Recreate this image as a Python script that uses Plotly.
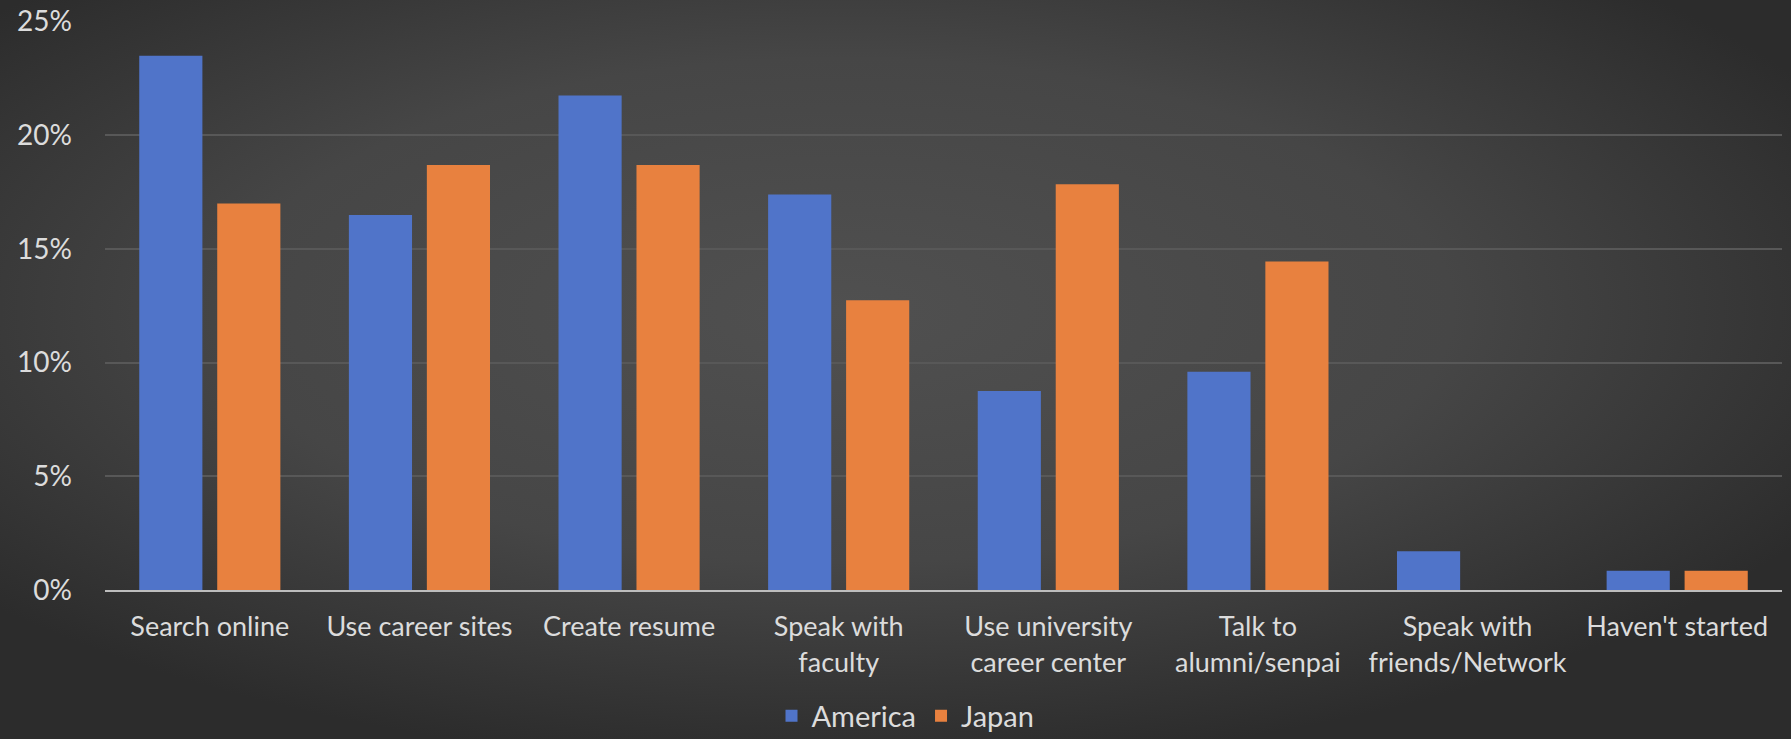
import base64
import plotly.graph_objects as go

# Job-search activities, share of respondents
categories = [
    "Search online",
    "Use career sites",
    "Create resume",
    "Speak with<br>faculty",
    "Use university<br>career center",
    "Talk to<br>alumni/senpai",
    "Speak with<br>friends/Network",
    "Haven't started",
]
america = [0.235, 0.165, 0.2175, 0.174, 0.0875, 0.096, 0.017, 0.0085]
japan = [0.17, 0.187, 0.187, 0.1275, 0.1785, 0.1445, 0.0, 0.0085]
y_ticks = [0, 0.05, 0.10, 0.15, 0.20, 0.25]
y_tick_labels = ["0%", "5%", "10%", "15%", "20%", "25%"]

W, H = 1791, 739
L, R, T, B = 105, 9, 21, 149
pw, ph = W - L - R, H - T - B

# Soft radial backdrop, lighter toward the middle
svg = f"""<svg xmlns='http://www.w3.org/2000/svg' width='{W}' height='{H}' viewBox='0 0 {W} {H}' preserveAspectRatio='none'>
<defs><radialGradient id='g' cx='0.47' cy='0.42' r='0.62' gradientUnits='objectBoundingBox'>
<stop offset='0' stop-color='#505050'/><stop offset='0.55' stop-color='#464646'/><stop offset='1' stop-color='#2c2c2c'/>
</radialGradient></defs><rect width='{W}' height='{H}' fill='url(#g)'/></svg>"""
bg_src = "data:image/svg+xml;base64," + base64.b64encode(svg.encode()).decode()

font_family = "Lato, 'Open Sans', sans-serif"
label_color = "#dcdcdc"

fig = go.Figure()
fig.add_trace(go.Bar(name="America", x=categories, y=america,
                     marker=dict(color="#5074c9", line=dict(width=0))))
fig.add_trace(go.Bar(name="Japan", x=categories, y=japan,
                     marker=dict(color="#e8813f", line=dict(width=0))))

fig.update_layout(
    width=W, height=H,
    margin=dict(l=L, r=R, t=T, b=B, pad=0, autoexpand=False),
    paper_bgcolor="#3c3c3c",
    plot_bgcolor="rgba(0,0,0,0)",
    barmode="group",
    bargap=0.256,
    bargroupgap=0.19,
    font=dict(family=font_family, color=label_color, size=27),
    showlegend=True,
    legend=dict(orientation="h", x=(W / 2 + 10 - L) / pw, xanchor="center",
                y=-(716 - T - ph) / ph, yanchor="middle",
                font=dict(size=29, color=label_color),
                bgcolor="rgba(0,0,0,0)", itemwidth=30, tracegroupgap=0),
    images=[dict(source=bg_src, xref="paper", yref="paper",
                 x=-L / pw, y=1 + T / ph, sizex=W / pw, sizey=H / ph,
                 xanchor="left", yanchor="top", sizing="stretch",
                 layer="below")],
)

fig.update_xaxes(
    showline=True, linecolor="#bdbdbd", linewidth=2,
    showgrid=False, ticks="", ticklabelstandoff=12,
    tickfont=dict(size=27, color=label_color),
)
fig.update_yaxes(
    range=[0, 0.2503], tickvals=y_ticks, ticktext=y_tick_labels,
    showgrid=True, gridcolor="#585858", gridwidth=1.5,
    zeroline=False, showline=False, ticks="", ticklabelstandoff=32,
    tickfont=dict(size=28, color=label_color),
)

fig.write_html("out.html")
